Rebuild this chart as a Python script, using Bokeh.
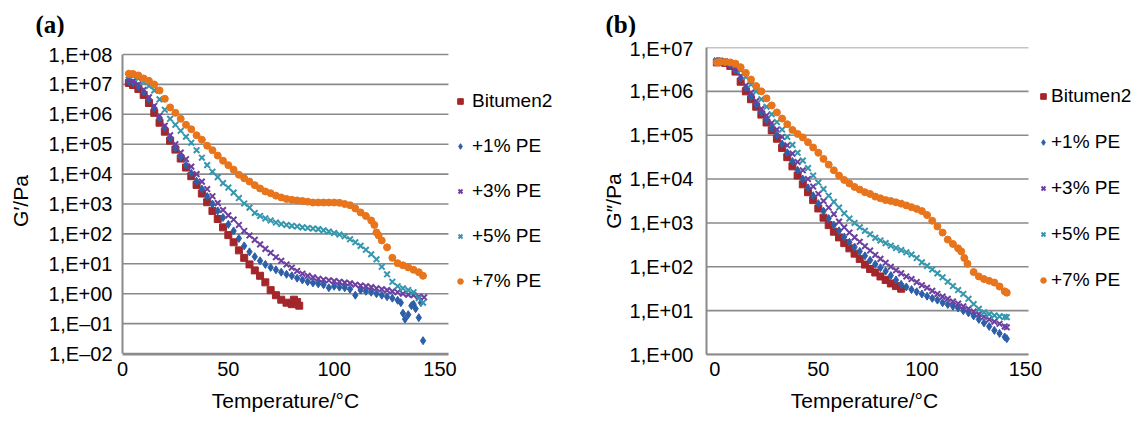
import numpy as np
from bokeh.plotting import figure
from bokeh.layouts import row, column
from bokeh.models import (FixedTicker, CustomJSTickFormatter, Range1d, Legend, LegendItem)
from bokeh.core.properties import value
from bokeh.embed import file_html
from bokeh.resources import INLINE

# ---------------- data (log10 of modulus in Pa) ----------------
SERIES = ["Bitumen2", "+1% PE", "+3% PE", "+5% PE", "+7% PE"]
X_TICKS = [0, 50, 100, 150]

# panel (a): G'
T_A_BIT = [3, 5, 7.5, 10, 12.5, 15, 17.5, 20, 22.5, 25, 27.5, 30, 32.5, 35, 37.5, 40, 42.5, 45,
           47.5, 50, 52.5, 55, 57.5, 60, 62.5, 65, 67.5, 70, 72.5, 75, 77.5, 80, 81, 82.5, 83.5]
LG_A_BIT = [7.05, 6.98, 6.85, 6.65, 6.38, 6.05, 5.72, 5.42, 5.12, 4.82,
            4.52, 4.22, 3.93, 3.64, 3.35, 3.06, 2.77, 2.5, 2.22, 1.96,
            1.72, 1.45, 1.2, 0.98, 0.78, 0.6, 0.38, 0.12, -0.05, -0.2,
            -0.3, -0.35, -0.2, -0.28, -0.4]

T_A_PE1 = [3, 5, 7.5, 10, 12.5, 15, 17.5, 20, 22.5, 25, 27.5, 30, 32.5, 35, 37.5, 40, 42.5, 45,
           47.5, 50, 52.5, 55, 57.5, 60, 62.5, 65, 67.5, 70, 72.5, 75, 77.5, 80, 82.5, 85, 87.5,
           90, 92.5, 95, 97.5, 100, 102.5, 105, 107.5, 110, 112.5, 115, 117.5, 120, 122.5, 125,
           127.5, 130, 131.5, 132.5, 133.5, 135, 136.5, 137.5, 138.5, 140, 141, 142]
LG_A_PE1 = [7.1, 7.05, 6.93, 6.75, 6.5, 6.2, 5.88, 5.55, 5.2, 4.87,
            4.58, 4.3, 4.03, 3.76, 3.5, 3.25, 3.0, 2.77, 2.55, 2.32,
            2.1, 1.85, 1.6, 1.4, 1.24, 1.1, 0.98, 0.88, 0.8, 0.72,
            0.65, 0.6, 0.52, 0.46, 0.4, 0.36, 0.33, 0.3, 0.2, 0.25,
            0.22, 0.2, 0.15, -0.05, 0.12, 0.08, 0.05, 0.0, -0.05, -0.1,
            -0.15, -0.22, -0.3, -0.65, -0.85, -0.7, -0.4, -0.35, -0.5, -0.8, -0.3, -1.57]

T_A_PE3 = [3, 5, 7.5, 10, 12.5, 15, 17.5, 20, 22.5, 25, 27.5, 30, 32.5, 35, 37.5, 40, 42.5, 45,
           47.5, 50, 52.5, 55, 57.5, 60, 62.5, 65, 67.5, 70, 72.5, 75, 77.5, 80, 82.5, 85, 87.5,
           90, 92.5, 95, 97.5, 100, 102.5, 105, 107.5, 110, 112.5, 115, 117.5, 120, 122.5, 125,
           127.5, 130, 132.5, 135, 137.5, 140, 142.5]
LG_A_PE3 = [7.15, 7.1, 7.0, 6.82, 6.57, 6.28, 5.95, 5.62, 5.3, 5.0,
            4.72, 4.5, 4.25, 4.0, 3.75, 3.5, 3.26, 3.03, 2.8, 2.62,
            2.48, 2.3, 2.1, 1.95, 1.8, 1.65, 1.5, 1.37, 1.22, 1.1,
            0.98, 0.87, 0.76, 0.67, 0.6, 0.55, 0.5, 0.47, 0.45, 0.42,
            0.4, 0.37, 0.35, 0.3, 0.27, 0.25, 0.22, 0.18, 0.15, 0.12,
            0.08, 0.05, 0.0, -0.03, -0.05, -0.1, -0.12]

T_A_PE5 = [3, 5, 7.5, 10, 12.5, 15, 17.5, 20, 22.5, 25, 27.5, 30, 32.5, 35, 37.5, 40, 42.5, 45,
           47.5, 50, 52.5, 55, 57.5, 60, 62.5, 65, 67.5, 70, 72.5, 75, 77.5, 80, 82.5, 85, 87.5,
           90, 92.5, 95, 97.5, 100, 102.5, 105, 107.5, 110, 112.5, 115, 117.5, 120, 122.5, 125,
           127.5, 130, 132.5, 135, 137.5, 140, 142]
LG_A_PE5 = [7.3, 7.28, 7.2, 7.08, 6.95, 6.8, 6.5, 6.15, 5.85, 5.65,
            5.45, 5.25, 5.05, 4.8, 4.55, 4.3, 4.08, 3.9, 3.7, 3.55,
            3.38, 3.2, 3.02, 2.88, 2.7, 2.6, 2.52, 2.45, 2.38, 2.33,
            2.3, 2.27, 2.25, 2.22, 2.2, 2.18, 2.16, 2.12, 2.08, 2.03,
            1.98, 1.92, 1.82, 1.72, 1.6, 1.47, 1.32, 1.15, 0.9, 0.65,
            0.4, 0.25, 0.18, 0.12, 0.05, -0.15, -0.3]

T_A_PE7 = [3, 5, 7.5, 10, 12.5, 15, 17.5, 20, 22.5, 25, 27.5, 30, 32.5, 35, 37.5, 40, 42.5, 45,
           47.5, 50, 52.5, 55, 57.5, 60, 62.5, 65, 67.5, 70, 72.5, 75, 77.5, 80, 82.5, 85, 87.5,
           90, 92.5, 95, 97.5, 100, 102.5, 105, 107.5, 110, 112.5, 115, 117.5, 119, 120, 121,
           122.5, 125, 127.5, 130, 132.5, 135, 137.5, 140, 142]
LG_A_PE7 = [7.36, 7.35, 7.3, 7.2, 7.12, 7.0, 6.8, 6.52, 6.23, 6.05,
            5.85, 5.65, 5.5, 5.3, 5.15, 4.95, 4.8, 4.62, 4.45, 4.3,
            4.15, 3.98, 3.86, 3.75, 3.63, 3.52, 3.42, 3.36, 3.28, 3.22,
            3.17, 3.14, 3.12, 3.1, 3.08, 3.05, 3.05, 3.05, 3.05, 3.05,
            3.04, 3.0, 2.96, 2.85, 2.72, 2.6, 2.45,
            2.3, 2.05, 1.95, 1.78, 1.55, 1.2, 1.02, 0.95, 0.88, 0.8, 0.72, 0.6]

# panel (b): G''
T_B_BIT = [1, 2.5, 5, 7.5, 10, 12.5, 15, 17.5, 20, 22.5, 25, 27.5, 30, 32.5, 35, 37.5, 40, 42.5,
           45, 47.5, 50, 52.5, 55, 57.5, 60, 62.5, 65, 67.5, 70, 72.5, 75, 77.5, 80, 82.5, 85,
           87.5, 90]
LG_B_BIT = [6.66, 6.67, 6.65, 6.58, 6.45, 6.22, 6.0, 5.82, 5.65, 5.47,
            5.29, 5.11, 4.92, 4.71, 4.5, 4.29, 4.08, 3.88, 3.7, 3.52,
            3.33, 3.12, 2.95, 2.8, 2.67, 2.54, 2.42, 2.3, 2.18, 2.05,
            1.95, 1.87, 1.78, 1.7, 1.62, 1.56, 1.5]

T_B_FULL = [1, 2.5, 5, 7.5, 10, 12.5, 15, 17.5, 20, 22.5, 25, 27.5, 30, 32.5, 35, 37.5, 40, 42.5,
            45, 47.5, 50, 52.5, 55, 57.5, 60, 62.5, 65, 67.5, 70, 72.5, 75, 77.5, 80, 82.5, 85,
            87.5, 90, 92.5, 95, 97.5, 100, 102.5, 105, 107.5, 110, 112.5, 115, 117.5, 120, 122.5,
            125, 127.5, 130, 132.5, 135, 137.5, 140, 141]
LG_B_PE1 = [6.68, 6.68, 6.66, 6.6, 6.48, 6.3, 6.08, 5.88, 5.7, 5.52,
            5.34, 5.16, 5.0, 4.8, 4.6, 4.4, 4.2, 4.0, 3.8, 3.62,
            3.44, 3.27, 3.1, 2.95, 2.82, 2.68, 2.56, 2.45, 2.35, 2.25,
            2.15, 2.06, 1.98, 1.9, 1.8, 1.7, 1.6, 1.54, 1.48, 1.43,
            1.38, 1.33, 1.28, 1.24, 1.18, 1.14, 1.1, 1.06, 1.0, 0.95,
            0.88, 0.8, 0.72, 0.64, 0.55, 0.48, 0.4, 0.36]
LG_B_PE3 = [6.7, 6.7, 6.68, 6.62, 6.52, 6.35, 6.13, 5.97, 5.78, 5.6,
            5.45, 5.28, 5.13, 4.96, 4.77, 4.58, 4.39, 4.2, 4.0, 3.83,
            3.66, 3.5, 3.35, 3.2, 3.03, 2.9, 2.78, 2.67, 2.57, 2.47,
            2.37, 2.27, 2.18, 2.09, 2.0, 1.92, 1.85, 1.78, 1.72, 1.65,
            1.58, 1.52, 1.45, 1.38, 1.32, 1.27, 1.21, 1.16, 1.1, 1.04,
            0.98, 0.92, 0.86, 0.8, 0.75, 0.7, 0.64, 0.62]
LG_B_PE5 = [6.68, 6.68, 6.68, 6.66, 6.6, 6.48, 6.33, 6.16, 6.0, 5.82,
            5.65, 5.48, 5.3, 5.13, 4.96, 4.78, 4.6, 4.42, 4.25, 4.08,
            3.92, 3.77, 3.62, 3.48, 3.35, 3.22, 3.1, 3.0, 2.9, 2.82,
            2.74, 2.66, 2.6, 2.54, 2.48, 2.43, 2.38, 2.33, 2.28, 2.2,
            2.1, 2.02, 1.94, 1.85, 1.76, 1.66, 1.56, 1.47, 1.38, 1.27,
            1.15, 1.04, 0.96, 0.92, 0.89, 0.87, 0.86, 0.85]

T_B_PE7 = [1, 2.5, 5, 7.5, 10, 12.5, 15, 17.5, 20, 22.5, 25, 27.5, 30, 32.5, 35, 37.5, 40, 42.5,
           45, 47.5, 50, 52.5, 55, 57.5, 60, 62.5, 65, 67.5, 70, 72.5, 75, 77.5, 80, 82.5, 85,
           87.5, 90, 92.5, 95, 97.5, 100, 102.5, 105, 107.5, 110, 112.5, 115, 117.5,
           119, 120.5, 122, 125, 127.5, 130, 132.5, 135, 137.5, 140, 141]
LG_B_PE7 = [6.66, 6.67, 6.67, 6.66, 6.63, 6.55, 6.42, 6.27, 6.12, 6.0,
            5.84, 5.68, 5.52, 5.38, 5.25, 5.12, 5.03, 4.95, 4.84, 4.72,
            4.6, 4.46, 4.33, 4.2, 4.08, 3.98, 3.9, 3.82, 3.76, 3.7,
            3.66, 3.6, 3.56, 3.52, 3.5, 3.47, 3.44, 3.4, 3.36, 3.32,
            3.27, 3.18, 3.05, 2.92, 2.78, 2.62, 2.52, 2.42,
            2.35, 2.2, 2.07, 1.88, 1.78, 1.72, 1.68, 1.64, 1.55, 1.44, 1.41]

Y_TICKS_A = [1e-2, 1e-1, 1e0, 1e1, 1e2, 1e3, 1e4, 1e5, 1e6, 1e7, 1e8]
Y_TICKS_B = [1e0, 1e1, 1e2, 1e3, 1e4, 1e5, 1e6, 1e7]
PANEL_LABELS = ["(a)", "(b)"]
X_TITLES = ["Temperature/\u00b0C", "Temperature/\u00b0C"]

# ---------------- style / layout ----------------
FONT = "Liberation Sans"
GRID = "#8a8a8a"
COLORS = ["#a3262a", "#2d5fa8", "#6c3fa0", "#3597ad", "#e8741c"]
MARKERS = ["square", "diamond", "x", "x", "circle"]
SIZES = [7, 8, 8, 8, 7]
STRIP_H = 37
FRAME_TOP = 47
FRAME_H = 307
BOTTOM_BORDER = 32
BOTTOM_STRIP_H = 28

fmt = CustomJSTickFormatter(code="""
const e = Math.round(Math.log10(tick));
const a = Math.abs(e);
const s = (a < 10 ? "0" : "") + a;
return "1,E" + (e < 0 ? "\\u2013" : "+") + s;
""")


def blank(width, height):
    f = figure(width=width, height=height, x_range=Range1d(0, width),
               y_range=Range1d(height, 0), output_backend="svg", toolbar_location=None,
               x_axis_location=None, y_axis_location=None, min_border=0)
    f.min_border_left = f.min_border_right = f.min_border_top = f.min_border_bottom = 0
    f.outline_line_color = None
    f.grid.visible = False
    return f


def panel(ylabel, xbounds, xr_end, yr, yticks, data, fl, fw, ylab_std, ytick_std,
          leg_loc, leg_std, leg_spacing):
    p = figure(frame_width=fw, frame_height=FRAME_H,
               x_range=Range1d(xbounds[0], xr_end), y_range=Range1d(*yr),
               y_axis_type="log", output_backend="svg", toolbar_location=None,
               min_border_left=fl, min_border_top=FRAME_TOP - STRIP_H, min_border_right=0,
               min_border_bottom=BOTTOM_BORDER)
    p.outline_line_color = None
    p.xgrid.visible = False
    p.ygrid.visible = False

    # horizontal grid lines limited to the plotting area (legend sits to their right)
    p.segment(x0=[xbounds[0]] * len(yticks), x1=[xbounds[1]] * len(yticks),
              y0=yticks, y1=yticks, line_color=GRID, line_width=1.6)

    p.xaxis.ticker = FixedTicker(ticks=X_TICKS, minor_ticks=[])
    p.xaxis.bounds = xbounds
    p.yaxis.ticker = FixedTicker(ticks=yticks, minor_ticks=[])
    p.yaxis.bounds = (yticks[0], yticks[-1])
    p.yaxis.formatter = fmt
    for ax in (p.xaxis, p.yaxis):
        ax.axis_line_color = GRID
        ax.axis_line_width = 2
        ax.major_tick_line_color = None
        ax.minor_tick_line_color = None
        ax.major_tick_out = 0
        ax.major_tick_in = 0
        ax.major_label_text_font = FONT
        ax.major_label_text_font_size = "20px"
        ax.major_label_text_color = "black"
        ax.axis_label_text_font = FONT
        ax.axis_label_text_font_size = "21px"
        ax.axis_label_text_font_style = "normal"
        ax.axis_label_text_color = "black"
    p.xaxis.major_label_standoff = 7
    p.yaxis.major_label_standoff = ytick_std
    p.yaxis.axis_label = ylabel
    p.yaxis.axis_label_standoff = ylab_std

    items = []
    for name, (t, lg), c, m, s in zip(SERIES, data, COLORS, MARKERS, SIZES):
        g = (10.0 ** np.array(lg)).tolist()
        lw = 2 if m == "x" else 1
        r = p.scatter(x=t, y=g, marker=m, size=s, fill_color=c, line_color=c, line_width=lw)
        items.append(LegendItem(label=name, renderers=[r]))
    leg = Legend(items=items, location=leg_loc, margin=0, padding=0,
                 glyph_width=14, glyph_height=20, label_height=20, spacing=leg_spacing,
                 label_standoff=leg_std, label_text_font=FONT, label_text_font_size="19px",
                 label_text_color="black", border_line_color=None,
                 background_fill_alpha=0)
    p.add_layout(leg)
    return p


data_a = [(T_A_BIT, LG_A_BIT), (T_A_PE1, LG_A_PE1), (T_A_PE3, LG_A_PE3),
          (T_A_PE5, LG_A_PE5), (T_A_PE7, LG_A_PE7)]
data_b = [(T_B_BIT, LG_B_BIT), (T_B_FULL, LG_B_PE1), (T_B_FULL, LG_B_PE3),
          (T_B_FULL, LG_B_PE5), (T_B_PE7, LG_B_PE7)]

# top strip with the panel letters
strip = blank(1129, STRIP_H)
strip.text(x=[35, 605], y=[24, 24], text=PANEL_LABELS, text_font=value("Liberation Serif"),
           text_font_style="bold", text_font_size="25px", text_baseline="middle",
           text_align="left", text_color="black")

# panel (a): 29.9 px per decade, frame 122..598 px (data area 122..448)
pa = panel("G\u2032/Pa", (0, 154), 224.9, (10 ** -2.033, 10 ** 8.235), Y_TICKS_A, data_a,
           122, 476, 14, 10, (331, 62), 5, 23)
# panel (b): 43.86 px per decade, frame 703..1129 px (data area 703..1025)
pb = panel("G\u2033/Pa", (-4, 151.5), 201.7, (1e0, 1e7), Y_TICKS_B, data_b,
           105, 426, 2, 13, (330, 63), 1, 24)

# bottom strip with the x-axis titles, centred under each data area
bottom = blank(1129, BOTTOM_STRIP_H)
bottom.text(x=[285, 864], y=[14, 14], text=X_TITLES, text_font=value(FONT),
            text_font_size="21px", text_baseline="middle", text_align="center",
            text_color="black")

layout = column(strip, row(pa, pb), bottom)
open("out.html", "w").write(file_html(layout, INLINE))
